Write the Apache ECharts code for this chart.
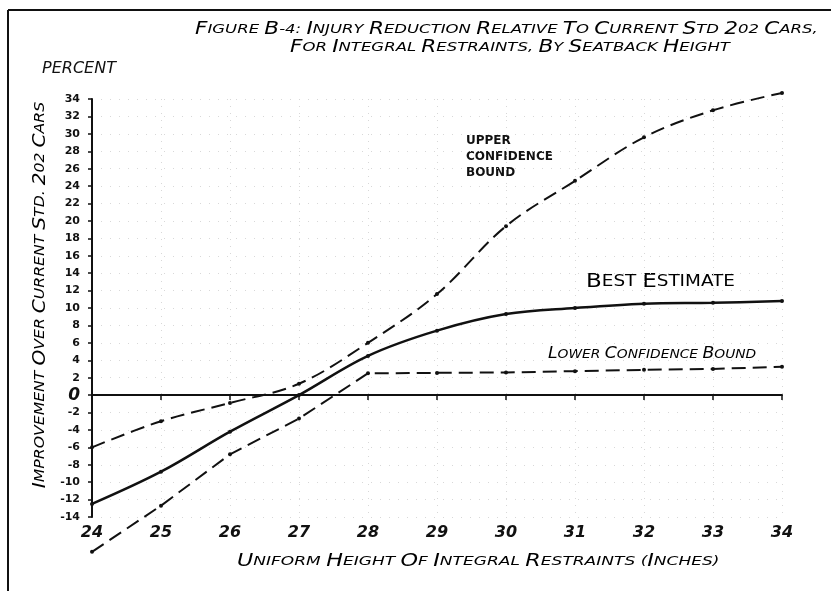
<!DOCTYPE html>
<html><head><meta charset="utf-8">
<script src="https://cdn.jsdelivr.net/npm/echarts@6/dist/echarts.min.js"></script>
<style>html,body{margin:0;padding:0;background:#fff}#c{width:831px;height:591px}</style>
</head><body><div id="c"></div>
<script>
const heights = [24, 25, 26, 27, 28, 29, 30, 31, 32, 33, 34];
const bestEstimate = [-12.5, -8.8, -4.2, 0, 4.5, 7.4, 9.3, 10.0, 10.5, 10.6, 10.8];
const upperBound = [-6, -3, -0.9, 1.3, 6.0, 11.6, 19.4, 24.6, 29.6, 32.7, 34.7];
const lowerBound = [-18, -12.7, -6.8, -2.7, 2.5, 2.55, 2.6, 2.75, 2.9, 3.0, 3.25];
const yTicks = { min: -14, max: 34, step: 2 };
const xTicks = { min: 24, max: 34, step: 1 };

const FONT = 'DejaVu Sans';
function sc(str) {
  // emulate hand-lettered small caps: first letter of each word large
  return str.split(' ').map(w => {
    if (!w) return '';
    const m = w.match(/^([^A-Z0-9]*)([A-Z0-9])(.*)$/);
    if (!m) return '{s|' + w + '}';
    let out = '';
    if (m[1]) out += '{s|' + m[1] + '}';
    out += '{b|' + m[2] + '}';
    if (m[3]) out += '{s|' + m[3] + '}';
    return out;
  }).join('{s| }');
}
function rich(big, small, italic, weight) {
  const st = italic === false ? 'normal' : 'italic';
  const fw = weight || 'normal';
  return {
    b: { fontFamily: FONT, fontStyle: st, fontWeight: fw, fontSize: big, color: '#111' },
    s: { fontFamily: FONT, fontStyle: st, fontWeight: fw, fontSize: small, color: '#111' }
  };
}
const pair = (arr) => heights.map((h, i) => [h, arr[i]]);

const chart = echarts.init(document.getElementById('c'), null, { renderer: 'canvas' });
chart.setOption({
  backgroundColor: '#fff',
  animation: false,
  grid: { left: 92, right: 49, top: 99, bottom: 74 },
  xAxis: {
    type: 'value', min: xTicks.min, max: xTicks.max, interval: xTicks.step,
    axisLine: { lineStyle: { color: '#111', width: 2 } },
    axisTick: { show: true, length: 5, lineStyle: { color: '#111', width: 1.5 } },
    axisLabel: { color: '#111', fontFamily: FONT, fontStyle: 'italic', fontWeight: 'bold', fontSize: 16, margin: 8 },
    splitLine: { show: true, lineStyle: { color: '#d8d8d8', type: [1, 6], width: 1 } }
  },
  yAxis: {
    type: 'value', min: yTicks.min, max: yTicks.max, interval: yTicks.step,
    axisLine: { show: true, onZero: false, lineStyle: { color: '#111', width: 2 } },
    axisTick: { show: true, length: 4, lineStyle: { color: '#111', width: 1.5 } },
    axisLabel: {
      color: '#111', fontFamily: FONT, fontWeight: 'bold', fontSize: 11, margin: 12,
      formatter: v => v === 0 ? '{z|0}' : String(v),
      rich: { z: { fontFamily: FONT, fontStyle: 'italic', fontSize: 17, color: '#111' } }
    },
    splitLine: { show: true, lineStyle: { color: '#d8d8d8', type: [1, 8], width: 1 } }
  },
  series: [
    {
      name: 'Best Estimate', type: 'line', data: pair(bestEstimate), smooth: 0.35, clip: false,
      symbol: 'circle', symbolSize: 4,
      lineStyle: { color: '#111', width: 2.5 },
      itemStyle: { color: '#111' },
      markLine: {
        silent: true, symbol: 'none', label: { show: false },
        lineStyle: { color: '#111', width: 1.5, type: 'solid' },
        data: [{ yAxis: 0 }]
      }
    },
    {
      name: 'Upper Confidence Bound', type: 'line', data: pair(upperBound), smooth: 0.35, clip: false,
      symbol: 'circle', symbolSize: 4,
      lineStyle: { color: '#111', width: 2, type: [14, 7] },
      itemStyle: { color: '#111' }
    },
    {
      name: 'Lower Confidence Bound', type: 'line', data: pair(lowerBound), smooth: false, clip: false,
      symbol: 'circle', symbolSize: 4,
      lineStyle: { color: '#111', width: 2, type: [14, 7] },
      itemStyle: { color: '#111' }
    }
  ],
  graphic: [
    { type: 'line', shape: { x1: 8, y1: 10, x2: 831, y2: 10 }, style: { stroke: '#111', lineWidth: 2 } },
    { type: 'line', shape: { x1: 8, y1: 10, x2: 8, y2: 591 }, style: { stroke: '#111', lineWidth: 2 } },
    { type: 'text', x: 195, y: 21, scaleX: 1.27,
      style: { text: sc('FIGURE B-4: INJURY REDUCTION RELATIVE TO CURRENT STD 202 CARS,'), rich: rich(17, 13) } },
    { type: 'text', x: 290, y: 39, scaleX: 1.27,
      style: { text: sc('FOR INTEGRAL RESTRAINTS, BY SEATBACK HEIGHT'), rich: rich(17, 13) } },
    { type: 'text', x: 42, y: 61,
      style: { text: 'PERCENT', fontFamily: FONT, fontStyle: 'italic', fontSize: 16, fill: '#111' } },
    { type: 'text', x: 237, y: 553, scaleX: 1.31,
      style: { text: sc('UNIFORM HEIGHT OF INTEGRAL RESTRAINTS (INCHES)'), rich: rich(17, 13) } },
    { type: 'text', x: 40, y: 295, rotation: Math.PI / 2, scaleX: 1.12,
      style: { text: sc('IMPROVEMENT OVER CURRENT STD. 202 CARS'), rich: rich(18, 14),
        align: 'center', verticalAlign: 'middle' } },
    { type: 'text', x: 466, y: 133,
      style: { text: 'UPPER\nCONFIDENCE\nBOUND', fontFamily: FONT, fontWeight: 'bold', fontSize: 12, lineHeight: 16, fill: '#111' } },
    { type: 'text', x: 586, y: 272, scaleX: 1.15,
      style: { text: sc('BEST ESTIMATE'), rich: rich(20, 16, false) } },
    { type: 'text', x: 548, y: 347, scaleX: 1.15,
      style: { text: sc('LOWER CONFIDENCE BOUND'), rich: rich(15, 12, true, 'normal') } }
  ]
});
</script></body></html>
